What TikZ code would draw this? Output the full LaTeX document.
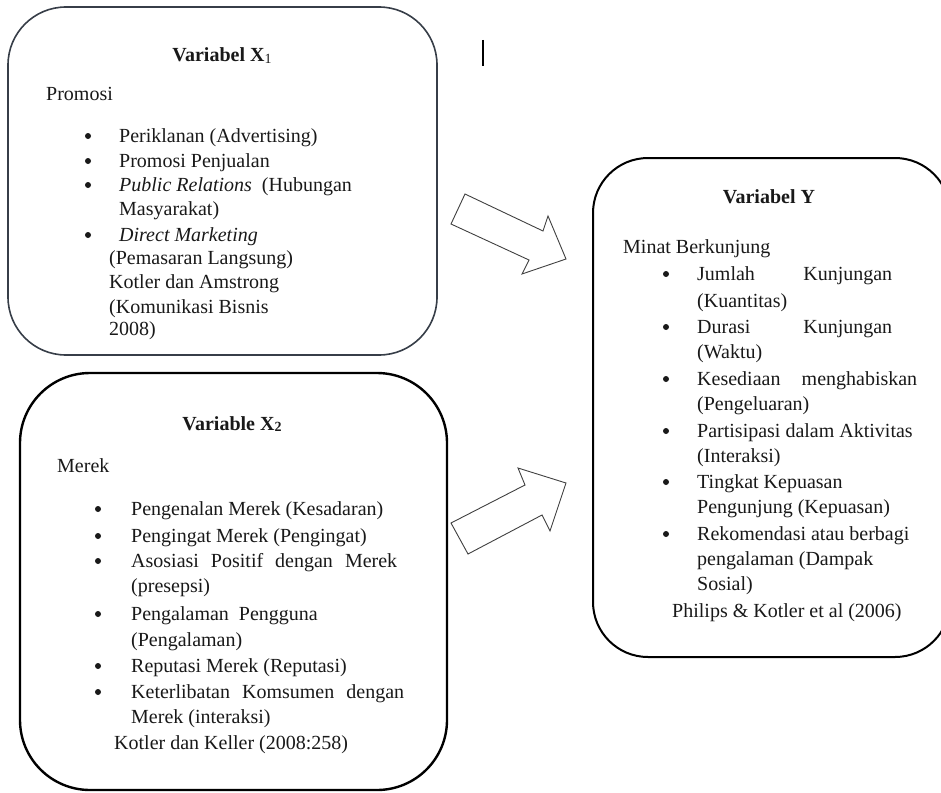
\documentclass[tikz,border=0pt]{standalone}
\usepackage{fontspec}
\setmainfont{Liberation Serif}
\usepackage{xcolor}
\usepackage{tikz}

\begin{document}
\begin{tikzpicture}[x=1pt,y=-1pt,
  lbl/.style={anchor=base west,inner sep=0pt,font=\fontsize{20}{24}\selectfont,text=black!90},
  ttl/.style={anchor=base,inner sep=0pt,font=\fontsize{20}{24}\selectfont\bfseries,text=black!90},
  dot/.style={circle,fill=black!90,inner sep=0pt,minimum size=6pt},
  blk/.style={draw=black!75,line width=0.9pt,fill=white,line join=miter}]
%\draw[color=black!20,step=50] (0,0) grid (941,792);
\clip (0,0) rectangle (941,792);
\fill[white] (0,0) rectangle (941,792);
\draw[line width=1.6pt,draw={rgb,255:red,55;green,62;blue,72},rounded corners=58pt] (8,7) rectangle (437,355);
\draw[line width=2.4pt,rounded corners=70pt] (20,373) rectangle (447,790);
\draw[line width=2pt,rounded corners=55pt] (593,158) rectangle (950,657);
\draw[line width=1.2pt] (483,40) -- (483,66);
% arrows
\draw[blk] (465,194) -- (543,231) -- (548,216) -- (566,259) -- (522,274) -- (529,260) -- (451,224) -- cycle;
\draw[blk] (468,554) -- (451,523) -- (525,485) -- (518,468) -- (566,483) -- (550,531) -- (542,515) -- cycle;
% variabel x1
\node[ttl] (xonettl) at (222,62) {Variabel X\raisebox{-1.5pt}{\fontsize{14}{14}\selectfont\mdseries 1}};
\node[lbl] (xonesub) at (46,100) {Promosi};
\node[dot] (xoneba) at (88,136) {};
\node[dot] (xonebb) at (88,161) {};
\node[dot] (xonebc) at (88,185) {};
\node[dot] (xonebd) at (88,235) {};
\node[lbl] (xonea) at (119,142) {Periklanan (Advertising)};
\node[lbl] (xoneb) at (119,167) {Promosi Penjualan};
\node[lbl] (xonec) at (119,191) {\textit{Public Relations}\ \ (Hubungan};
\node[lbl] (xoned) at (119,215) {Masyarakat)};
\node[lbl] (xonee) at (119,241) {\textit{Direct Marketing}};
\node[lbl] (xonef) at (109,264) {(Pemasaran Langsung)};
\node[lbl] (xoneg) at (109,288) {Kotler dan Amstrong};
\node[lbl] (xoneh) at (109,313) {(Komunikasi Bisnis};
\node[lbl] (xonei) at (109,335) {2008)};
% variable x2
\node[ttl] (xtwottl) at (232,430) {Variable X\raisebox{-1.5pt}{\fontsize{14}{14}\selectfont 2}};
\node[lbl] (xtwosub) at (57,472) {Merek};
\node[dot] (xtwoba) at (98,509) {};
\node[dot] (xtwobb) at (98,536) {};
\node[dot] (xtwobc) at (98,561) {};
\node[dot] (xtwobd) at (98,614) {};
\node[dot] (xtwobe) at (98,666) {};
\node[dot] (xtwobf) at (98,692) {};
\node[lbl] (xtwoa) at (131,515) {Pengenalan Merek (Kesadaran)};
\node[lbl] (xtwob) at (131,542) {Pengingat Merek (Pengingat)};
\node[lbl] (xtwoc) at (131,567) {\makebox[266pt][s]{Asosiasi Positif dengan Merek}};
\node[lbl] (xtwod) at (131,592) {(presepsi)};
\node[lbl] (xtwoe) at (131,620) {Pengalaman\ \ Pengguna};
\node[lbl] (xtwof) at (131,646) {(Pengalaman)};
\node[lbl] (xtwog) at (131,672) {Reputasi Merek (Reputasi)};
\node[lbl] (xtwoh) at (131,698) {\makebox[273pt][s]{Keterlibatan Komsumen dengan}};
\node[lbl] (xtwoi) at (131,723) {Merek (interaksi)};
\node[lbl] (xtwoj) at (114,749) {Kotler dan Keller (2008:258)};
% variabel y
\node[ttl] (yttl) at (769,203) {Variabel Y};
\node[lbl] (ysub) at (623,253) {Minat Berkunjung};
\node[dot] (yba) at (666,274) {};
\node[dot] (ybb) at (666,327) {};
\node[dot] (ybc) at (666,379) {};
\node[dot] (ybd) at (666,431) {};
\node[dot] (ybe) at (666,482) {};
\node[dot] (ybf) at (666,534) {};
\node[lbl] (ya) at (697,280) {\makebox[195pt][s]{Jumlah Kunjungan}};
\node[lbl] (yb) at (697,307) {(Kuantitas)};
\node[lbl] (yc) at (697,333) {\makebox[195pt][s]{Durasi Kunjungan}};
\node[lbl] (yd) at (697,358) {(Waktu)};
\node[lbl] (ye) at (697,385) {\makebox[220pt][s]{Kesediaan menghabiskan}};
\node[lbl] (yf) at (697,410) {(Pengeluaran)};
\node[lbl] (yg) at (697,437) {Partisipasi dalam Aktivitas};
\node[lbl] (yh) at (697,462) {(Interaksi)};
\node[lbl] (yi) at (697,488) {Tingkat Kepuasan};
\node[lbl] (yj) at (697,513) {Pengunjung (Kepuasan)};
\node[lbl] (yk) at (697,540) {Rekomendasi atau berbagi};
\node[lbl] (yl) at (697,565) {pengalaman (Dampak};
\node[lbl] (ym) at (697,590) {Sosial)};
\node[lbl] (yn) at (672,617) {Philips \& Kotler et al (2006)};
\end{tikzpicture}
\end{document}
